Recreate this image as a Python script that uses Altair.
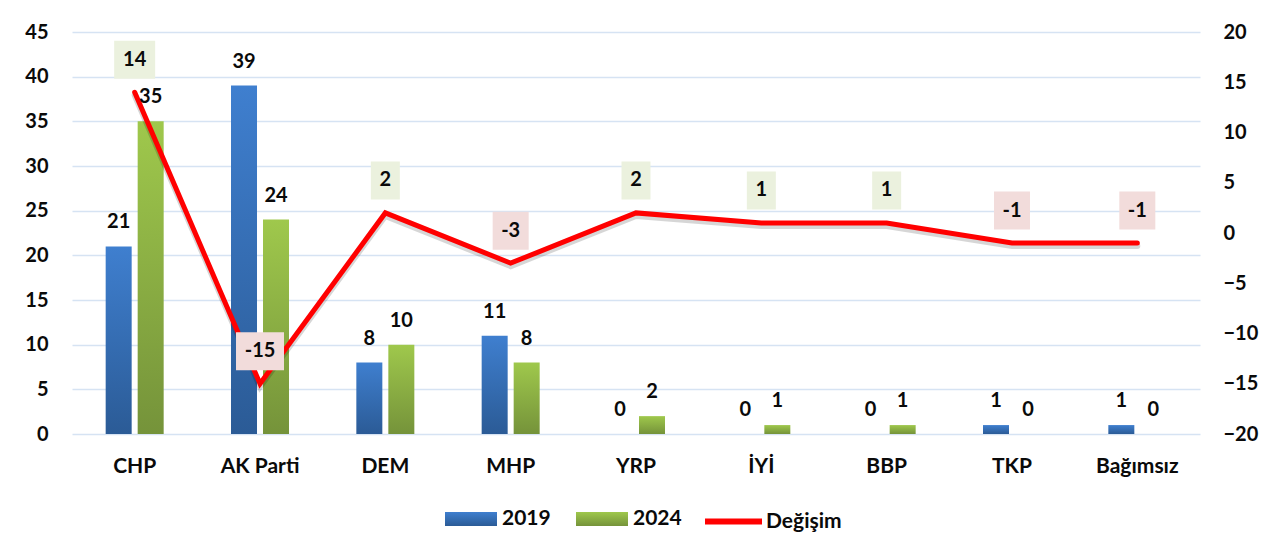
import altair as alt
import pandas as pd

# ---- data ----
categories = ["CHP", "AK Parti", "DEM", "MHP", "YRP", "İYİ", "BBP", "TKP", "Bağımsız"]
v2019 = [21, 39, 8, 11, 0, 0, 0, 1, 1]
v2024 = [35, 24, 10, 8, 2, 1, 1, 0, 0]
change = [14, -15, 2, -3, 2, 1, 1, -1, -1]
series_names = ["2019", "2024"]
line_name = "Değişim"
left_ticks = [0, 5, 10, 15, 20, 25, 30, 35, 40, 45]
right_ticks = [-20, -15, -10, -5, 0, 5, 10, 15, 20]

rows = []
for c, a, b in zip(categories, v2019, v2024):
    rows.append({"party": c, "series": "2019", "value": a})
    rows.append({"party": c, "series": "2024", "value": b})
bars_df = pd.DataFrame(rows)
chg_df = pd.DataFrame({
    "party": categories,
    "change": change,
    "label": [str(v) for v in change],
    "name": [line_name] * len(categories),
})

FONT = "Lato"
TXT = "#0a0a0a"


def grad(top, bot):
    return ("{gradient:'linear',x1:0,y1:0,x2:0,y2:1,stops:[{offset:0,color:'%s'},"
            "{offset:1,color:'%s'}]}" % (top, bot))


def box_path(w):
    hw = w / 48.0
    hh = 19 / 24.0
    return f"M{-hw:.3f},{-hh:.3f}H{hw:.3f}V{hh:.3f}H{-hw:.3f}Z"


box_labels = ["14", "-15", "2", "-3", "1", "-1"]
box_widths = [41, 48, 29, 36, 29, 36]
box_paths = [box_path(w) for w in box_widths]

x_enc = alt.X(
    "party:N", sort=categories,
    scale=alt.Scale(paddingInner=0.2819, paddingOuter=0.141),
    axis=alt.Axis(title=None, labelAngle=0, labelFontSize=21, labelPadding=21,
                  ticks=False, domain=False, grid=False),
)
xoff = alt.XOffset("series:N", scale=alt.Scale(domain=series_names,
                                               paddingInner=0.1875, paddingOuter=0.5))

y_left = alt.Y(
    "value:Q",
    scale=alt.Scale(domain=[0, 45], nice=False, zero=True),
    axis=alt.Axis(values=left_ticks, title=None, orient="left", labelFontSize=20,
                  labelPadding=24, ticks=False, domain=False, grid=True,
                  gridColor="#d6e3f3", gridWidth=1.5),
)

color_scale = alt.Scale(
    domain=series_names,
    range=[alt.ExprRef(expr=grad("#3f7fcf", "#2b5b96")),
           alt.ExprRef(expr=grad("#9fc84c", "#75933a"))],
)

bars = alt.Chart(bars_df).mark_bar(strokeWidth=0).encode(
    x=x_enc,
    xOffset=xoff,
    y=y_left,
    color=alt.Color(
        "series:N", scale=color_scale,
        legend=alt.Legend(title=None, orient="none", legendX=373, legendY=461,
                          direction="horizontal", symbolType="M-1,-0.27H1V0.27H-1Z",
                          symbolSize=2704, symbolStrokeWidth=0, labelFontSize=21,
                          labelOffset=5, columnPadding=25, padding=0),
    ),
)

y_right = alt.Y(
    "change:Q",
    scale=alt.Scale(domain=[-20, 20], nice=False, zero=False),
    axis=alt.Axis(values=right_ticks, title=None, orient="right", labelFontSize=20,
                  labelPadding=23, ticks=False, domain=False, grid=False),
)

shadow = alt.Chart(chg_df).mark_line(color="#000000", opacity=0.16, strokeWidth=6,
                                     yOffset=3, strokeCap="round").encode(
    x=x_enc, y=y_right)

line = alt.Chart(chg_df).mark_line(strokeWidth=5, strokeCap="round").encode(
    x=x_enc,
    y=y_right,
    stroke=alt.Stroke(
        "name:N", scale=alt.Scale(domain=[line_name], range=["#ff0000"]),
        legend=alt.Legend(title=None, orient="none", legendX=630, legendY=458,
                          symbolType="stroke", symbolSize=3249, symbolStrokeWidth=6,
                          labelFontSize=21, labelOffset=1, padding=0),
    ),
)

boxes = alt.Chart(chg_df).mark_point(filled=True, opacity=1, size=2304, yOffset=-32.5,
                                     strokeWidth=0).encode(
    x=x_enc,
    y=y_right,
    shape=alt.Shape("label:N", scale=alt.Scale(domain=box_labels, range=box_paths),
                    legend=None),
    fill=alt.condition("datum.change > 0", alt.value("#ebf1de"), alt.value("#f2dcdb")),
)

chg_text = alt.Chart(chg_df).mark_text(font=FONT, fontSize=20, fontWeight="bold",
                                       color=TXT, dy=-32.5, baseline="middle").encode(
    x=x_enc, y=y_right, text="label:N")

line_group = alt.layer(shadow, line, boxes, chg_text)

bar_text = alt.Chart(bars_df).mark_text(font=FONT, fontSize=20, fontWeight="bold",
                                        color=TXT, dy=-24, baseline="middle").encode(
    x=x_enc,
    xOffset=xoff,
    y=alt.Y("value:Q", scale=alt.Scale(domain=[0, 45], nice=False, zero=True), axis=None),
    text="value:Q",
)

chart = alt.layer(bars, line_group, bar_text).resolve_scale(y="independent").properties(
    width=1128, height=402,
    padding={"left": 64, "top": 24, "right": 66, "bottom": 100},
    autosize=alt.AutoSizeParams(type="none"),
).configure_view(stroke=None).configure_axis(
    labelFont=FONT, labelFontWeight="bold", labelColor=TXT,
).configure_legend(
    labelFont=FONT, labelFontWeight="bold", labelColor=TXT,
)

chart.save("out.html", embed_options={"renderer": "svg", "actions": False})
